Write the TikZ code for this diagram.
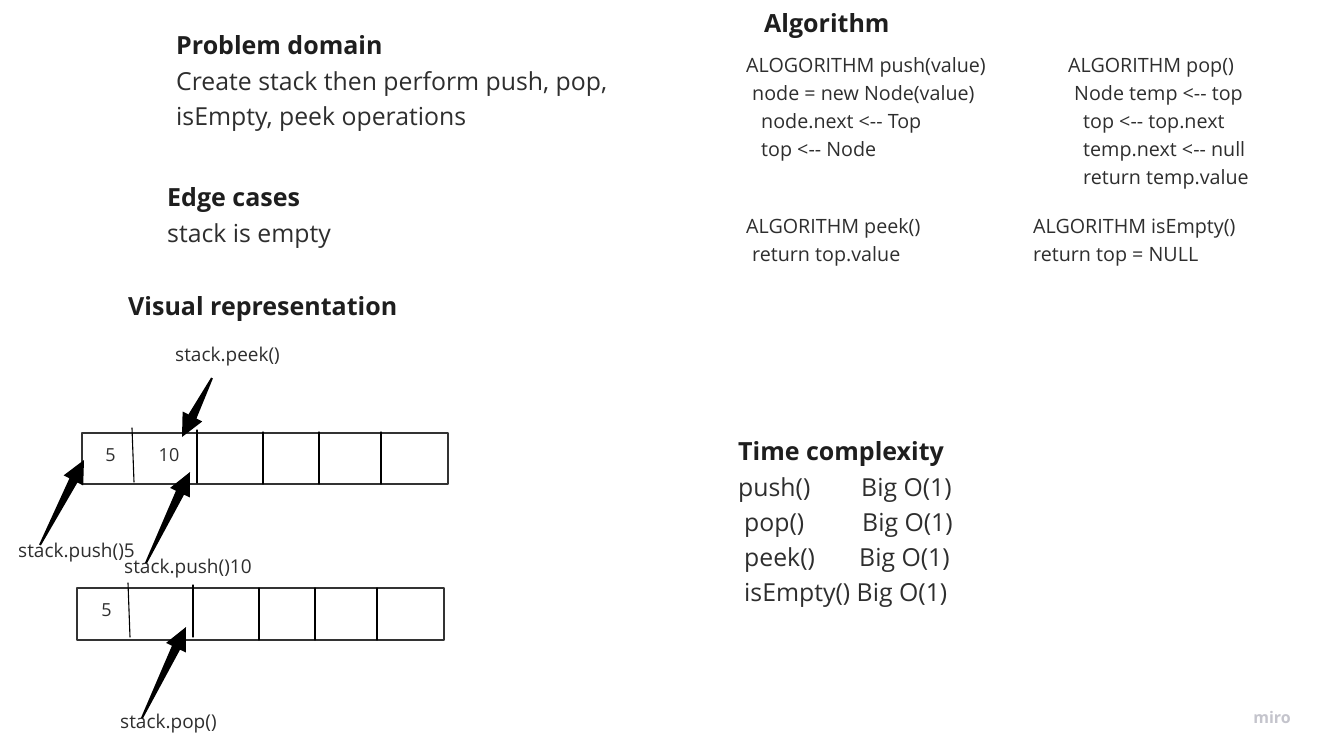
\documentclass[tikz,border=0pt]{standalone}
\usepackage{fontspec}
\setmainfont{Open Sans}
\usetikzlibrary{calc}
\definecolor{ink}{HTML}{1E1E1E}
\definecolor{txt}{HTML}{2E2E2E}
\definecolor{wm}{HTML}{C4C4CC}
\tikzset{
  head/.style={anchor=base west, inner sep=0pt, text=ink, font=\fontsize{25}{29}\selectfont\bfseries},
  body/.style={anchor=base west, inner sep=0pt, text=txt, font=\fontsize{24.8}{29}\selectfont},
  algo/.style={anchor=base west, inner sep=0pt, text=txt, font=\fontsize{19.7}{23}\selectfont},
  lbl/.style={anchor=base west, inner sep=0pt, text=txt, font=\fontsize{19}{22}\selectfont},
  cell/.style={inner sep=0pt, text=txt, font=\fontsize{18}{21}\selectfont},
  box/.style={draw=black!80, line width=2pt},
  bar/.style={black, line width=1.1pt},
}
% tapered marker arrow: tail, tip
\newcommand{\taper}[2]{%
  \path ($(#2)!23pt!(#1)$) coordinate (hb);
  \fill[black] ($(#1)!1pt!90:(#2)$) -- ($(hb)!4.5pt!90:(#2)$) -- ($(hb)!11pt!90:(#2)$) -- (#2)
    -- ($(hb)!11pt!-90:(#2)$) -- ($(hb)!4.5pt!-90:(#2)$) -- ($(#1)!1pt!-90:(#2)$) -- cycle;}
\begin{document}
\begin{tikzpicture}[x=1pt,y=-1pt, line join=round, line cap=round]
  \useasboundingbox[fill=white] (0,0) rectangle (1324,754);

  % left column
  \node[head] (probhead) at (176,55) {Problem domain};
  \node[body] (prob1) at (176,91) {Create stack then perform push, pop,};
  \node[body] (prob2) at (176,126) {isEmpty, peek operations};
  \node[head] (edgehead) at (167,207) {Edge cases};
  \node[body] (edge1) at (167,242) {stack is empty};
  \node[head] (vishead) at (128,315) {Visual representation};

  % algorithm
  \node[head] (alghead) at (764,33) {Algorithm};
  \node[algo] (push1) at (746,73) {ALOGORITHM push(value)};
  \node[algo] (push2) at (752,101) {node = new Node(value)};
  \node[algo] (push3) at (761,129) {node.next <-{}- Top};
  \node[algo] (push4) at (761,157) {top <-{}- Node};
  \node[algo] (pop1) at (1068,73) {ALGORITHM pop()};
  \node[algo] (pop2) at (1074,101) {Node temp <-{}- top};
  \node[algo] (pop3) at (1083,129) {top <-{}- top.next};
  \node[algo] (pop4) at (1083,157) {temp.next <-{}- null};
  \node[algo] (pop5) at (1083,185) {return temp.value};
  \node[algo] (peek1) at (746,233) {ALGORITHM peek()};
  \node[algo] (peek2) at (752,261) {return top.value};
  \node[algo] (empty1) at (1033,233) {ALGORITHM isEmpty()};
  \node[algo] (empty2) at (1033,261) {return top = NULL};

  % time complexity
  \node[head] (timehead) at (738,460) {Time complexity};
  \node[body] (tpush) at (738,496) {push()};
  \node[body] (opush) at (861,496) {Big O(1)};
  \node[body] (tpop) at (744,531) {pop()};
  \node[body] (opop) at (862,531) {Big O(1)};
  \node[body] (tpeek) at (744,566) {peek()};
  \node[body] (opeek) at (859,566) {Big O(1)};
  \node[body] (tempty) at (744,601) {isEmpty() Big O(1)};

  % stack after two pushes
  \draw[box] (82,433) rectangle (448,484);
  \draw[bar] (132,428) -- (134,482);
  \draw[bar] (197,430) -- (197,483);
  \draw[bar] (263,432) -- (263,484);
  \draw[bar] (319,432) -- (319,484);
  \draw[bar] (381,432) -- (381,484);
  \node[cell] (five) at (110.5,455) {5};
  \node[cell] (ten) at (169,455) {10};

  % stack after pop
  \draw[box] (77,588) rectangle (444,640);
  \draw[bar] (128,583) -- (130,637);
  \draw[bar] (193,585) -- (193,637);
  \draw[bar] (259,588) -- (259,640);
  \draw[bar] (315,588) -- (315,640);
  \draw[bar] (377,588) -- (377,640);
  \node[cell] (fivelow) at (106.5,610) {5};

  % labels
  \node[lbl] (peek) at (175,361) {stack.peek()};
  \node[lbl] (pushfive) at (18,557) {stack.push()5};
  \node[lbl] (pushten) at (124,573) {stack.push()10};
  \node[lbl] (pop) at (120,728) {stack.pop()};
  \node[font=\fontsize{16}{18}\selectfont\bfseries, text=wm, inner sep=0pt] (miro) at (1272,717) {miro};

  % arrows
  \coordinate (peektail) at (212,378);
  \coordinate (peektip) at (182,437);
  \coordinate (fivetail) at (40,545);
  \coordinate (fivetip) at (84,460);
  \coordinate (tentail) at (146,563);
  \coordinate (tentip) at (190,472);
  \coordinate (poptail) at (142,718);
  \coordinate (poptip) at (186,627);
  \taper{peektail}{peektip}
  \taper{fivetail}{fivetip}
  \taper{tentail}{tentip}
  \taper{poptail}{poptip}
\end{tikzpicture}
\end{document}
